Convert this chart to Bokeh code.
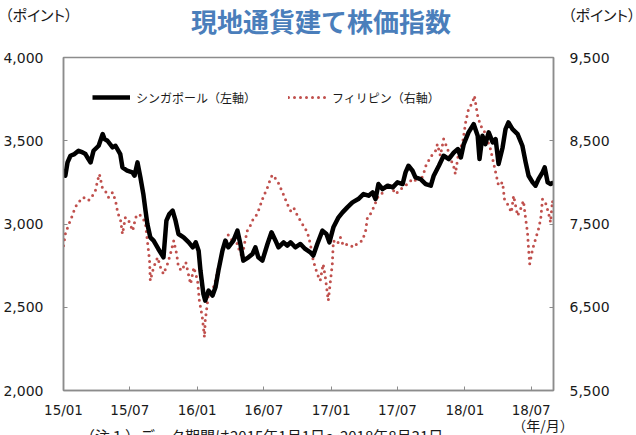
from datetime import datetime
import pandas as pd
from bokeh.plotting import figure
from bokeh.layouts import column
from bokeh.models import (Range1d, LinearAxis, FixedTicker, NumeralTickFormatter,
                          DatetimeTickFormatter, ColumnDataSource, Div)
from bokeh.embed import file_html
from bokeh.resources import INLINE

# ---------------- data ----------------
sing_dates = [
    "2015-01-01", "2015-01-06", "2015-01-12", "2015-01-20", "2015-01-31", "2015-02-11", "2015-02-22",
    "2015-03-02", "2015-03-10", "2015-03-16", "2015-03-24", "2015-04-07", "2015-04-18", "2015-04-23",
    "2015-05-01", "2015-05-15", "2015-05-23", "2015-06-05", "2015-06-11", "2015-06-24", "2015-07-08",
    "2015-07-14", "2015-07-22", "2015-07-30", "2015-08-07", "2015-08-13", "2015-08-18", "2015-08-26",
    "2015-09-04", "2015-09-17", "2015-10-01", "2015-10-09", "2015-10-17", "2015-10-26", "2015-11-03",
    "2015-11-11", "2015-11-25", "2015-12-09", "2015-12-20", "2015-12-28", "2016-01-05", "2016-01-10",
    "2016-01-18", "2016-01-23", "2016-02-01", "2016-02-12", "2016-02-20", "2016-02-28", "2016-03-10",
    "2016-03-18", "2016-03-26", "2016-04-09", "2016-04-20", "2016-04-28", "2016-05-06", "2016-05-20",
    "2016-05-31", "2016-06-08", "2016-06-16", "2016-06-27", "2016-07-11", "2016-07-22", "2016-08-02",
    "2016-08-10", "2016-08-24", "2016-09-03", "2016-09-12", "2016-09-25", "2016-10-09", "2016-10-22",
    "2016-11-05", "2016-11-13", "2016-11-24", "2016-12-08", "2016-12-19", "2016-12-27", "2017-01-07",
    "2017-01-21", "2017-02-01", "2017-02-14", "2017-02-28", "2017-03-16", "2017-03-30", "2017-04-13",
    "2017-04-24", "2017-05-02", "2017-05-10", "2017-05-21", "2017-06-04", "2017-06-18", "2017-07-01",
    "2017-07-15", "2017-07-23", "2017-07-31", "2017-08-11", "2017-08-19", "2017-09-02", "2017-09-16",
    "2017-09-30", "2017-10-08", "2017-10-22", "2017-11-04", "2017-11-18", "2017-12-02", "2017-12-13",
    "2017-12-21", "2017-12-29", "2018-01-11", "2018-01-25", "2018-02-05", "2018-02-10", "2018-02-18",
    "2018-02-26", "2018-03-07", "2018-03-18", "2018-03-26", "2018-04-03", "2018-04-14", "2018-04-22",
    "2018-04-30", "2018-05-11", "2018-05-25", "2018-06-07", "2018-06-16", "2018-06-24", "2018-07-05",
    "2018-07-13", "2018-07-21", "2018-08-01", "2018-08-07", "2018-08-15", "2018-08-23", "2018-08-31",
]
sing_vals = [
    3330, 3290, 3370, 3410, 3420, 3440, 3430,
    3420, 3390, 3370, 3440, 3470, 3540, 3510,
    3500, 3460, 3470, 3420, 3340, 3320, 3310,
    3290, 3370, 3280, 3180, 3080, 3000, 2920,
    2900, 2850, 2800, 3020, 3060, 3080, 3020,
    2940, 2920, 2890, 2860, 2890, 2840, 2720,
    2580, 2540, 2600, 2570, 2620, 2720, 2840,
    2900, 2860, 2900, 2960, 2880, 2780, 2800,
    2820, 2860, 2800, 2780, 2880, 2950, 2900,
    2860, 2890, 2870, 2890, 2860, 2880, 2850,
    2830, 2810, 2880, 2960, 2940, 2890, 2980,
    3040, 3070, 3100, 3130, 3150, 3180, 3170,
    3190, 3150, 3240, 3210, 3230, 3220, 3250,
    3240, 3310, 3350, 3320, 3280, 3270, 3240,
    3230, 3290, 3350, 3410, 3390, 3430, 3450,
    3400, 3480, 3550, 3600, 3530, 3390, 3530,
    3480, 3550, 3490, 3510, 3360, 3460, 3570,
    3610, 3570, 3540, 3470, 3370, 3290, 3250,
    3230, 3270, 3310, 3340, 3250, 3240, 3250,
]

phil_dates = [
    "2015-01-01", "2015-01-06", "2015-01-14", "2015-01-25", "2015-02-02", "2015-02-11", "2015-02-24",
    "2015-03-10", "2015-03-21", "2015-03-29", "2015-04-04", "2015-04-09", "2015-04-17", "2015-04-25",
    "2015-05-04", "2015-05-15", "2015-05-23", "2015-05-29", "2015-06-06", "2015-06-11", "2015-06-19",
    "2015-06-28", "2015-07-09", "2015-07-17", "2015-07-25", "2015-08-05", "2015-08-13", "2015-08-18",
    "2015-08-24", "2015-08-26", "2015-09-04", "2015-09-15", "2015-09-23", "2015-10-01", "2015-10-12",
    "2015-10-20", "2015-10-29", "2015-11-06", "2015-11-11", "2015-11-20", "2015-12-01", "2015-12-09",
    "2015-12-14", "2015-12-23", "2016-01-02", "2016-01-07", "2016-01-15", "2016-01-21", "2016-01-23",
    "2016-02-01", "2016-02-12", "2016-02-20", "2016-02-28", "2016-03-10", "2016-03-18", "2016-03-26",
    "2016-04-06", "2016-04-14", "2016-04-22", "2016-05-03", "2016-05-09", "2016-05-17", "2016-05-25",
    "2016-06-02", "2016-06-13", "2016-06-21", "2016-06-29", "2016-07-11", "2016-07-19", "2016-07-24",
    "2016-08-07", "2016-08-15", "2016-08-23", "2016-09-03", "2016-09-12", "2016-09-20", "2016-10-01",
    "2016-10-09", "2016-10-17", "2016-10-28", "2016-11-05", "2016-11-13", "2016-11-24", "2016-12-02",
    "2016-12-10", "2016-12-16", "2016-12-24", "2016-12-29", "2017-01-04", "2017-01-07", "2017-01-18",
    "2017-01-26", "2017-02-03", "2017-02-17", "2017-03-03", "2017-03-16", "2017-03-27", "2017-04-05",
    "2017-04-10", "2017-04-18", "2017-04-27", "2017-05-08", "2017-05-16", "2017-05-30", "2017-06-12",
    "2017-06-26", "2017-07-10", "2017-07-23", "2017-08-06", "2017-08-14", "2017-08-25", "2017-09-02",
    "2017-09-10", "2017-09-18", "2017-09-24", "2017-10-05", "2017-10-13", "2017-10-18", "2017-10-26",
    "2017-11-04", "2017-11-15", "2017-11-23", "2017-12-01", "2017-12-06", "2017-12-15", "2017-12-26",
    "2018-01-03", "2018-01-11", "2018-01-22", "2018-01-27", "2018-02-05", "2018-02-13", "2018-02-21",
    "2018-03-04", "2018-03-12", "2018-03-20", "2018-03-28", "2018-04-03", "2018-04-14", "2018-04-19",
    "2018-04-30", "2018-05-08", "2018-05-14", "2018-05-25", "2018-06-02", "2018-06-10", "2018-06-16",
    "2018-06-21", "2018-06-24", "2018-06-27", "2018-07-05", "2018-07-13", "2018-07-21", "2018-07-27",
    "2018-08-01", "2018-08-09", "2018-08-17", "2018-08-23", "2018-08-28", "2018-08-31",
]
phil_vals = [
    7240, 7380, 7480, 7600, 7700, 7760, 7820,
    7780, 7840, 7900, 8020, 8100, 7940, 7900,
    7820, 7880, 7780, 7640, 7540, 7380, 7580,
    7540, 7420, 7580, 7620, 7580, 7500, 7300,
    7060, 6820, 6980, 7100, 6980, 6900, 7020,
    7140, 7300, 7140, 6980, 6940, 7040, 6880,
    6780, 6980, 6820, 6580, 6380, 6140, 6340,
    6660, 6700, 6820, 6980, 7180, 7260, 7370,
    7300, 7340, 7220, 7100, 7260, 7420, 7480,
    7560, 7620, 7720, 7820, 7940, 8040, 8090,
    8020, 7940, 7860, 7740, 7660, 7700, 7600,
    7540, 7480, 7400, 7260, 7060, 6900, 6820,
    7020, 6860, 6580, 6780, 7020, 7300, 7260,
    7340, 7240, 7260, 7220, 7280, 7300, 7420,
    7580, 7620, 7700, 7820, 7840, 7940, 7960,
    7860, 7920, 7960, 8020, 8000, 8060, 8020,
    8100, 8220, 8260, 8340, 8380, 8460, 8320,
    8520, 8400, 8280, 8200, 8100, 8360, 8480,
    8720, 8880, 8960, 9040, 8800, 8680, 8640,
    8500, 8400, 8240, 8080, 7960, 8000, 7800,
    7720, 7640, 7840, 7600, 7680, 7780, 7560,
    7400, 7200, 7020, 7200, 7320, 7440, 7560,
    7800, 7760, 7640, 7520, 7780, 7700,
]

x_ticks = ["2015-01-01", "2015-07-01", "2016-01-01", "2016-07-01",
           "2017-01-01", "2017-07-01", "2018-01-01", "2018-07-01"]
left_ticks = [2000, 2500, 3000, 3500, 4000]
right_ticks = [5500, 6500, 7500, 8500, 9500]

title_text = "現地通貨建て株価指数"
unit_text = "（ポイント）"
sing_label = "シンガポール（左軸）"
phil_label = "フィリピン（右軸）"
xunit_text = "（年/月）"
note_text = "（注１）データ期間は2015年1月1日～2018年8月31日"

# ---------------- styling ----------------
GRAY = "#8c8c8c"
TXT = "#1a1a1a"
NUM_FONT = "DejaVu Sans"
JP_FONT = "Noto Sans CJK JP"
W = 636

# ---------------- top texts (title and unit labels) ----------------
span = "position:absolute;white-space:nowrap;line-height:1;"
top_html = (
    f'<div style="position:relative;width:{W}px;height:45px;font-family:\'{JP_FONT}\';color:{TXT};">'
    f'<span style="{span}left:5px;top:7px;font-size:15px;font-feature-settings:\'palt\';">{unit_text}</span>'
    f'<span style="{span}left:568px;top:7px;font-size:15px;font-feature-settings:\'palt\';">{unit_text}</span>'
    f'<span style="{span}left:0px;width:642px;text-align:center;top:8px;font-size:26px;'
    f'font-weight:bold;color:#4a7ebb;">{title_text}</span>'
    '</div>'
)
top_div = Div(text=top_html, width=W, height=45, margin=(0, 0, 0, 0))

# ---------------- figure ----------------
p = figure(width=W, height=375, output_backend="svg", toolbar_location=None,
           x_axis_type="datetime",
           x_range=Range1d(datetime(2015, 1, 1), datetime(2018, 8, 31)),
           y_range=Range1d(2000, 4000),
           min_border_left=63, min_border_right=83, min_border_top=12, min_border_bottom=30,
           margin=(0, 0, 0, 0))
p.extra_y_ranges = {"right": Range1d(5500, 9500)}
p.xgrid.visible = False
p.ygrid.visible = False
p.outline_line_color = GRAY
p.outline_line_width = 1.5
p.background_fill_color = "white"
p.border_fill_color = "white"

src_s = ColumnDataSource(dict(x=pd.to_datetime(sing_dates), y=sing_vals))
src_p = ColumnDataSource(dict(x=pd.to_datetime(phil_dates), y=phil_vals))

p.line("x", "y", source=src_p, y_range_name="right", color="#c0504d",
       line_width=3, line_dash="0 6", line_cap="round", legend_label=phil_label)
p.line("x", "y", source=src_s, color="black", line_width=4.5, line_join="round",
       legend_label=sing_label)

items = p.legend[0].items
p.legend[0].items = [items[1], items[0]]

xa = p.xaxis[0]
xa.ticker = FixedTicker(ticks=[pd.Timestamp(t).value / 1e6 for t in x_ticks])
xa.formatter = DatetimeTickFormatter(days="%y/%m", months="%y/%m", years="%y/%m",
                                     hours="%y/%m", minutes="%y/%m", seconds="%y/%m",
                                     milliseconds="%y/%m", microseconds="%y/%m")
ya = p.yaxis[0]
ya.ticker = FixedTicker(ticks=left_ticks)
ya.formatter = NumeralTickFormatter(format="0,0")

ra = LinearAxis(y_range_name="right", ticker=FixedTicker(ticks=right_ticks),
                formatter=NumeralTickFormatter(format="0,0"))
p.add_layout(ra, "right")

for ax in (xa, ya, ra):
    ax.axis_line_color = GRAY
    ax.axis_line_width = 1.5
    ax.major_tick_line_color = GRAY
    ax.major_tick_in = 4
    ax.major_tick_out = 0
    ax.minor_tick_line_color = None
    ax.major_label_text_font = NUM_FONT
    ax.major_label_text_color = TXT
ya.major_label_text_font_size = "14px"
ra.major_label_text_font_size = "14px"
xa.major_label_text_font_size = "13.5px"
ya.major_label_standoff = 20
ra.major_label_standoff = 16
xa.major_label_standoff = 11

lg = p.legend[0]
lg.orientation = "horizontal"
lg.location = (29, 283)
lg.padding = 0
lg.margin = 0
lg.spacing = 32
lg.glyph_width = 38
lg.glyph_height = 20
lg.label_standoff = 6
lg.label_text_font = JP_FONT
lg.label_text_font_size = "12px"
lg.label_text_color = TXT
lg.border_line_color = None
lg.background_fill_alpha = 0

# ---------------- bottom texts ----------------
bottom_html = (
    f'<div style="position:relative;width:{W}px;height:15px;overflow:visible;'
    f'font-family:\'{JP_FONT}\';color:{TXT};">'
    f'<span style="{span}left:503px;width:80px;text-align:center;top:-2px;font-size:14px;">{xunit_text}</span>'
    f'<span style="{span}left:80px;top:8px;font-size:15px;">{note_text}</span>'
    '</div>'
)
bottom_div = Div(text=bottom_html, width=W, height=15, margin=(0, 0, 0, 0))

layout = column(top_div, p, bottom_div, spacing=0, margin=(0, 0, 0, 0))

open("out.html", "w").write(file_html(layout, INLINE))
